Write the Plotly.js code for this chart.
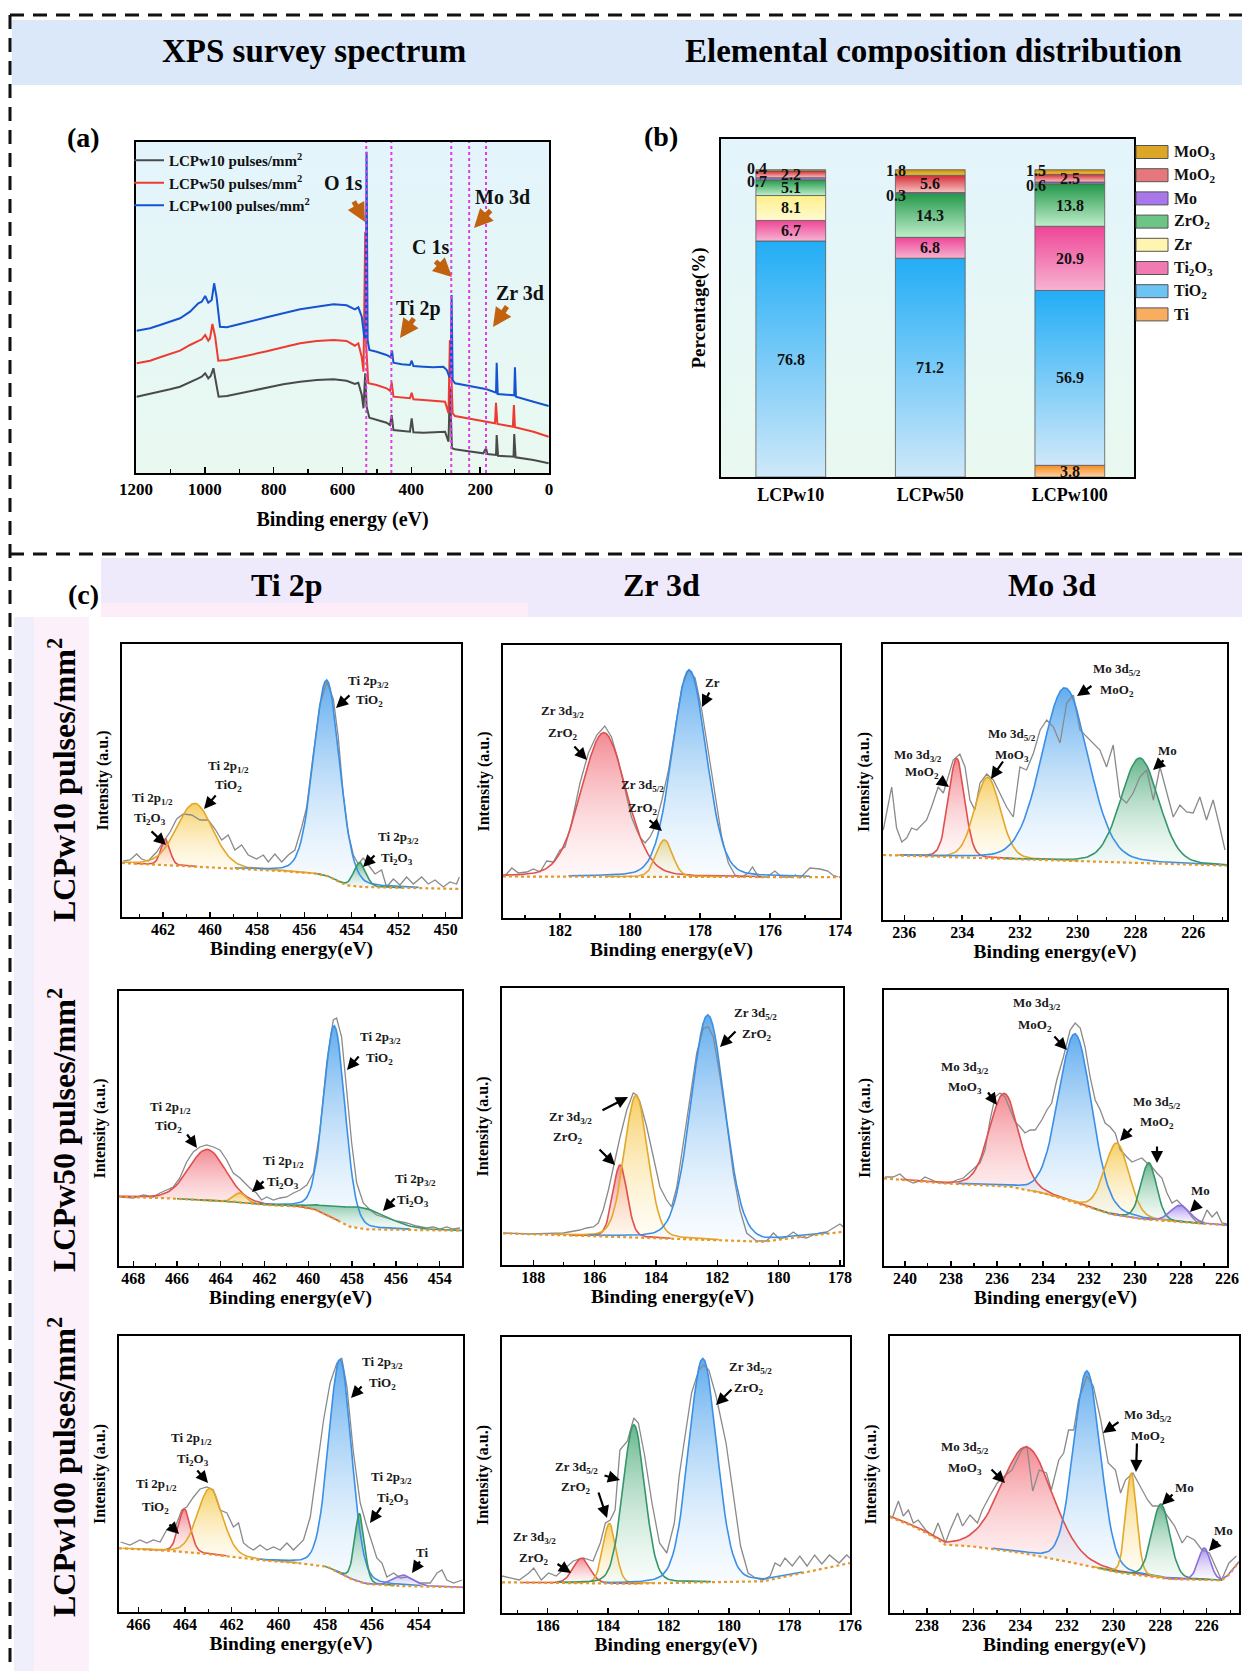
<!DOCTYPE html>
<html>
<head>
<meta charset="utf-8">
<script src="https://cdn.plot.ly/plotly-3.0.1.min.js"></script>
<style>
html,body{margin:0;padding:0;background:#fff;}
#fig{width:1242px;height:1671px;}
</style>
</head>
<body>
<div id="fig"></div>
<script>
// ======================= DATA =======================
// (a) XPS survey spectra (binding energy eV, intensity a.u.)
const surveySeries = ['LCPw10 pulses/mm<sup>2</sup>', 'LCPw50 pulses/mm<sup>2</sup>', 'LCPw100 pulses/mm<sup>2</sup>'];
const surveyE10 = [1198,1159,1130,1101,1072,1043,1019,1009,999,990,983,975,968,960,936,898,859,820,772,723,675,626,588,564,554,544,539,534,530,522,501,472,462,457,452,428,404,399,394,365,336,302,292,288,282,273,239,191,183,179,154,152,148,128,103,101,97,45,1];
const surveyI10 = [76.3,79,81.3,83.7,86.3,91.3,94.7,96.3,99.7,94.7,97,104.7,91.3,76.3,77,79.7,82.3,85.3,88.7,91.3,93,93.7,92.3,89,90.3,78,64.7,99.7,66.3,55.3,53,50.3,48,58,43,42,41.3,54.7,40.7,40.3,40.7,41.3,31.3,86.3,24.7,23.7,22,19.7,24.7,19,18,38,17.3,17,16.3,39,15.7,13,9.7];
const surveyE50 = [1198,1159,1130,1101,1072,1043,1019,1009,999,990,985,978,970,961,936,898,859,820,772,723,675,626,588,564,554,544,539,534,531,525,501,472,462,457,452,428,404,399,394,365,336,302,292,288,283,280,273,239,200,181,157,154,150,128,105,102,99,45,1];
const surveyI50 = [109.7,112.3,115.7,119,122.3,128,132.3,133.7,138,132.3,134.7,149,136.3,112.3,113,115.7,118.7,121.7,125.7,129.7,132,133,132,127.3,129.7,115.7,101.3,241.3,126.3,89.7,88,84.7,82.3,90.3,76.3,75.3,74.7,80.3,73.7,73,72.3,71.3,59.7,133,91.3,59.7,57,54.7,52,50.7,49.7,70.3,49,47.7,46.3,68,45.7,41.3,36.3];
const surveyE100 = [1198,1159,1130,1101,1072,1043,1019,1009,999,990,980,973,966,956,936,898,859,820,772,723,675,626,588,564,554,544,537,533,530,527,522,501,472,460,456,452,428,404,399,394,365,336,307,297,289,286,283,280,273,239,200,181,154,152,149,128,101,99,96,45,1];
const surveyI100 = [142.3,144.7,148,151.3,154.7,161.3,169.7,171.3,177,170.3,173,189.7,176.3,146.3,145.7,149,152,155.7,159.7,163.7,166.3,168.7,167.7,163.7,165.7,156.3,136.3,134.7,321.3,133,123,121.3,118,115.7,122.3,110.3,108.7,108,112.3,107,106.3,105.7,106.3,103,95.7,99.7,178,93,89.7,87.7,85.3,83.7,80.3,110.3,79,78.3,77.7,105.7,76.3,71.3,67];
const surveyPeakNames = ['O 1s','Ti 2p','C 1s','Mo 3d','Zr 3d'];
const surveyPeakE = [531, 458, 284, 232, 183];

// (b) elemental composition (%)
const samples = ['LCPw10','LCPw50','LCPw100'];
const species = ['Ti','TiO<sub>2</sub>','Ti<sub>2</sub>O<sub>3</sub>','Zr','ZrO<sub>2</sub>','Mo','MoO<sub>2</sub>','MoO<sub>3</sub>'];
const pctTi    = [0, 0, 3.8];
const pctTiO2  = [76.8, 71.2, 56.9];
const pctTi2O3 = [6.7, 6.8, 20.9];
const pctZr    = [8.1, 0, 0];
const pctZrO2  = [5.1, 14.3, 13.8];
const pctMo    = [0.7, 0.3, 0.6];
const pctMoO2  = [2.2, 5.6, 2.5];
const pctMoO3  = [0.4, 1.8, 1.5];

// (c) high-resolution spectra: raw data, background, fitted peaks (centre eV, height, FWHM eV)
const ti10E = [463.68,463.40,463.12,462.91,462.63,462.27,461.99,461.70,461.42,461.14,460.78,460.43,460.08,459.79,459.51,459.23,458.95,458.66,458.38,458.03,457.74,457.53,457.25,456.96,456.68,456.40,456.11,455.90,455.62,455.33,455.05,454.77,454.56,454.35,454.13,453.92,453.71,453.50,453.28,453.00,452.72,452.51,452.22,451.94,451.66,451.37,451.02,450.74,450.45,450.10,449.82,449.54,449.42];
const ti10I = [56,57,63,58,56,65,75,85,98,103,102,97,97,88,77,82,67,72,62,58,62,55,63,55,62,67,90,110,163,213,235,218,180,123,83,62,53,59,52,43,47,30,38,32,40,33,40,33,37,30,35,33,40];
const ti10BgE = [463.74,461.5,459.0,457.0,455.5,455.0,454.6,454.2,453.5,449.35];
const ti10BgI = [54,51.7,48.4,46,43.4,40.7,36,31.7,30,28];
const ti10PeakE = [461.9, 460.65, 455.05, 453.64];
const ti10PeakH = [26, 63, 196, 24];
const ti10PeakW = [0.45, 1.8, 1.3, 0.6];

const zr10E = [183.60,183.38,183.19,182.95,182.76,182.57,182.38,182.19,182.00,181.86,181.67,181.43,181.19,180.95,180.72,180.53,180.34,180.15,179.96,179.81,179.70,179.57,179.43,179.29,179.09,178.90,178.71,178.52,178.33,178.14,177.95,177.76,177.57,177.38,177.19,177.00,176.81,176.62,176.50,176.33,176.09,175.86,175.67,175.38,175.28,175.14,174.86,174.57,174.35,174.21,174.05];
const zr10I = [41,50,45,46,49,46,57,56,68,71,95,135,165,183,192,181,158,128,101,88,80,75,81,91,118,148,188,231,248,240,208,165,121,81,55,43,41,45,51,41,41,47,41,41,43,40,50,49,47,43,41];
const zr10BgE = [183.63, 174.0];
const zr10BgI = [41.5, 40.8];
const zr10PeakE = [180.75, 179.02, 178.31];
const zr10PeakH = [144, 37, 207];
const zr10PeakW = [1.5, 0.55, 1.15];

const mo10E = [236.73,236.44,236.27,236.09,235.92,235.75,235.57,235.40,235.23,235.06,234.83,234.65,234.48,234.31,234.08,233.90,233.73,233.56,233.38,233.15,232.92,232.69,232.46,232.23,232.00,231.77,231.53,231.30,231.07,230.84,230.61,230.38,230.15,229.92,229.69,229.46,229.23,229.00,228.77,228.54,228.31,228.08,227.85,227.61,227.38,227.15,226.92,226.69,226.46,226.23,226.00,225.77,225.54,225.31,225.08,224.90];
const mo10I = [90,133,92,78,82,92,90,95,100,113,133,127,143,160,166,153,120,110,137,146,140,127,113,103,153,150,167,190,200,193,177,217,225,190,183,177,170,153,175,123,117,127,143,150,120,153,127,103,115,108,107,123,100,120,93,70];
const mo10BgE = [236.74, 224.83];
const mo10BgI = [65, 54.3];
const mo10PeakE = [234.19, 233.12, 230.44, 227.85];
const mo10PeakH = [99, 81, 173, 105];
const mo10PeakW = [0.65, 1.05, 1.9, 1.55];

const ti50E = [468.60,468.00,467.54,467.09,466.78,466.47,466.17,465.87,465.56,465.26,464.95,464.65,464.34,464.04,463.73,463.43,463.12,462.90,462.67,462.37,462.14,461.90,461.60,461.29,460.99,460.68,460.38,460.07,459.77,459.47,459.16,458.86,458.71,458.48,458.25,458.02,457.79,457.49,457.18,456.88,456.42,455.97,455.51,455.05,454.60,454.29,453.99,453.68,453.38,453.07];
const ti50I = [69,68,71,69,73,76,79,88,104,114,119,121,119,116,106,93,88,83,78,73,66,69,66,68,69,73,76,81,93,136,203,246,248,229,179,123,83,63,56,51,48,45,43,40,38,39,37,39,37,38];
const ti50BgE = [468.65,466.47,463.43,461.90,460.38,459.62,458.86,458.10,457.33,452.98];
const ti50BgI = [69.3,67.7,64.3,61,59.3,56,47.7,39.3,36.7,35.3];
const ti50PeakE = [464.62, 463.12, 458.81, 457.6];
const ti50PeakH = [51, 9.5, 193, 21];
const ti50PeakW = [2.0, 0.65, 1.15, 2.8];

const zr50E = [188.98,188.11,187.02,186.48,186.26,186.04,185.88,185.72,185.55,185.39,185.17,184.95,184.74,184.63,184.52,184.30,184.09,183.87,183.65,183.49,183.32,183.11,182.89,182.67,182.45,182.29,182.13,181.91,181.69,181.48,181.26,181.04,180.72,180.39,180.17,179.96,179.74,179.52,179.30,179.09,178.87,178.65,178.43,178.22,178.00,177.89];
const zr50I = [32,31,32,35,37,38,42,55,75,98,128,155,172,170,163,138,108,78,65,58,78,122,168,212,237,238,228,188,142,92,55,32,24,24,32,26,28,33,28,27,30,32,33,37,41,38];
const zr50BgE = [188.98,186.48,184.30,182.13,180.50,177.89];
const zr50BgI = [31.7,29.3,27.3,25,23.3,33.3];
const zr50PeakE = [185.17, 184.65, 182.31];
const zr50PeakH = [72, 142, 225];
const zr50PeakW = [0.55, 0.9, 1.3];

const mo50E = [240.87,240.51,240.22,239.93,239.64,239.35,239.13,238.91,238.62,238.33,238.04,237.75,237.46,237.17,236.95,236.74,236.52,236.30,236.08,235.87,235.65,235.43,235.21,234.99,234.78,234.56,234.34,234.05,233.83,233.62,233.40,233.11,232.82,232.60,232.38,232.17,231.95,231.73,231.51,231.30,231.08,230.86,230.64,230.35,230.13,229.92,229.70,229.48,229.26,229.05,228.83,228.61,228.39,228.18,227.96,227.74,227.52,227.31,227.09,226.87,226.65,226.44,226.22,226.00];
const mo50I = [89,89,92,86,83,85,89,87,84,83,83,86,88,94,99,103,116,146,169,173,169,156,144,139,133,136,136,146,156,163,186,209,236,243,238,219,189,166,156,143,139,133,116,109,104,106,108,103,99,93,88,73,63,66,61,56,49,44,44,56,49,54,43,42];
const mo50BgE = [240.91,238.33,235.43,233.83,232.53,231.08,229.63,227.45,226.0];
const mo50BgI = [87.7,82.7,79.3,72,62.7,52,46.7,42.7,40.7];
const mo50PeakE = [235.69, 232.60, 230.79, 229.40, 228.03];
const mo50PeakH = [93, 169, 72, 57, 17];
const mo50PeakW = [1.5, 1.7, 1.25, 0.8, 1.0];

const ti100E = [466.76,466.36,465.93,465.64,465.36,465.07,464.79,464.50,464.14,463.93,463.64,463.36,463.07,462.79,462.50,462.21,461.93,461.71,461.50,461.29,461.07,460.79,460.50,460.21,459.93,459.64,459.36,459.07,458.93,458.64,458.36,458.07,457.79,457.50,457.29,457.07,456.79,456.50,456.21,456.00,455.79,455.57,455.36,455.07,454.79,454.50,454.21,453.93,453.50,453.21,453.00,452.79,452.50,452.14];
const ti100I = [70,67,72,69,72,70,82,80,102,105,115,123,125,122,102,99,85,89,69,65,62,67,62,65,62,69,62,69,72,95,142,192,229,249,254,225,159,109,85,69,54,49,35,39,34,35,32,29,29,39,42,32,29,32];
const ti100BgE = [466.83,464.79,463.36,461.93,460.50,459.07,457.93,457.36,456.79,456.21,454.79,452.1];
const ti100BgI = [63.7,61.3,58.7,55.3,51.3,48.7,45.3,38.7,32,28,26,24.7];
const ti100PeakE = [464.03, 462.93, 457.36, 456.53, 454.64];
const ti100PeakH = [43, 66, 214, 68, 11];
const ti100PeakW = [0.6, 1.25, 1.15, 0.5, 1.0];

const zr100E = [187.51,187.27,186.94,186.62,186.46,186.21,185.97,185.72,185.48,185.15,184.83,184.50,184.26,184.09,183.93,183.77,183.61,183.36,183.15,183.00,182.79,182.55,182.30,182.06,181.81,181.65,181.49,181.24,181.00,180.84,180.67,180.43,180.10,179.86,179.62,179.37,179.13,178.88,178.64,178.48,178.31,178.15,177.91,177.66,177.42,177.17,176.93,176.68,176.36,176.11,176.00];
const zr100I = [37,35,33,40,45,33,40,37,43,52,55,52,70,90,93,103,163,172,195,190,157,110,70,60,90,137,170,220,243,248,243,217,170,117,67,40,35,33,37,50,47,55,47,57,47,58,49,58,50,58,55];
const zr100BgE = [187.51,183.36,178.88,176.0];
const zr100BgI = [30.7,29.3,31.7,50];
const zr100PeakE = [184.88, 183.96, 183.15, 180.87];
const zr100PeakH = [25, 60, 159, 224];
const zr100PeakW = [0.65, 0.5, 0.85, 1.1];

const mo100E = [239.48,239.23,239.02,238.80,238.59,238.38,238.06,237.75,237.53,237.22,237.01,236.69,236.48,236.16,235.84,235.63,235.31,234.99,234.68,234.36,233.94,233.72,233.47,233.19,232.88,232.67,232.35,232.14,231.93,231.71,231.50,231.14,230.87,230.55,230.23,229.92,229.70,229.49,229.17,228.86,228.54,228.33,228.01,227.69,227.38,227.06,226.85,226.53,226.21,225.89,225.58,225.37,225.05,224.73];
const mo100I = [96,112,97,103,90,93,83,77,90,70,83,100,87,98,90,103,117,130,137,143,163,167,122,143,140,123,153,160,183,183,213,237,227,193,150,143,120,133,140,127,113,107,107,97,87,70,77,73,63,60,43,33,50,57];
const mo100BgE = [239.59,238.59,237.75,237.22,236.05,233.94,231.82,229.70,227.59,225.37,225.05,224.62];
const mo100BgI = [96,86.6,76.6,68.3,66.6,60,50.6,40,34,32.6,38.3,51];
const mo100PeakE = [233.72, 231.14, 229.24, 227.97, 226.11];
const mo100PeakH = [107, 195, 101, 74, 32];
const mo100PeakW = [2.6, 1.35, 0.55, 0.9, 0.6];

// ======================= STYLE / LAYOUT =======================
const F = "'Liberation Serif','Times New Roman',serif";
const W = 1242, H = 1671;
const PX = x => x / W, PY = y => 1 - y / H;
const fnt = (s, c) => ({family: F, size: s, color: c || '#000', weight: 'bold'});
const traces = [], annotations = [], shapes = [];

const compStyle = {
  red:    {line:'#e0504e', top:'rgba(240,112,122,0.82)', bot:'rgba(255,228,230,0.25)', mid:'rgba(246,170,176,0.6)'},
  yellow: {line:'#e3a82a', top:'rgba(244,196,66,0.82)',  bot:'rgba(255,246,218,0.25)', mid:'rgba(248,220,140,0.6)'},
  blue:   {line:'#3a8fe6', top:'rgba(70,158,236,0.85)',  bot:'rgba(228,242,253,0.25)', mid:'rgba(150,200,245,0.6)'},
  green:  {line:'#34966a', top:'rgba(70,166,116,0.82)',  bot:'rgba(226,245,234,0.25)', mid:'rgba(150,210,178,0.6)'},
  purple: {line:'#8a6de0', top:'rgba(148,120,236,0.82)', bot:'rgba(236,230,252,0.25)', mid:'rgba(190,172,244,0.6)'}
};

function interp(xs, ys, x) {
  for (let i = 0; i < xs.length - 1; i++) {
    const a = xs[i], b = xs[i + 1];
    if ((x - a) * (x - b) <= 0) { const t = (x - a) / (b - a); return ys[i] + t * (ys[i + 1] - ys[i]); }
  }
  return Math.abs(x - xs[0]) < Math.abs(x - xs[xs.length - 1]) ? ys[0] : ys[ys.length - 1];
}
function pv(d) { return 0.85 * Math.exp(-4 * Math.LN2 * d * d) + 0.15 / (1 + 4 * d * d); }

function note(text, x, y, size, color, extra) {
  annotations.push(Object.assign({xref:'paper', yref:'paper', x:PX(x), y:PY(y), xanchor:'center', yanchor:'middle',
    text:text, showarrow:false, font:fnt(size, color || '#000')}, extra || {}));
}
function arrow(x, y, ax, ay, color, width, size) {
  annotations.push({xref:'paper', yref:'paper', x:PX(x), y:PY(y), xanchor:'center', yanchor:'middle', text:'',
    showarrow:true, ax:ax, ay:ay, arrowhead:2, arrowsize:size, arrowwidth:width, arrowcolor:color});
}

function bgTrace(xa, ya, xr, yr) {
  traces.push({type:'scatter', mode:'lines', xaxis:xa, yaxis:ya,
    x:[xr[0], xr[1], xr[1], xr[0], xr[0]], y:[yr[0], yr[0], yr[1], yr[1], yr[0]],
    fill:'toself', fillcolor:'#e7f7f6',
    fillgradient:{type:'vertical', colorscale:[[0, '#e9f9f0'], [1, '#e3f4fc']]},
    line:{width:0}, hoverinfo:'skip', showlegend:false});
}

// ---------- (a) survey ----------
const frA = [136, 549, 142, 473];
const xrA = [1200, 0], yrA = [0, frA[3] - frA[2]];
bgTrace('x', 'y', xrA, yrA);
const surveyColors = ['#4a4a4a', '#ee3b32', '#1553d0'];
[[surveyE10, surveyI10], [surveyE50, surveyI50], [surveyE100, surveyI100]].forEach((s, i) => {
  traces.push({type:'scatter', mode:'lines', x:s[0], y:s[1], xaxis:'x', yaxis:'y',
    name:surveySeries[i], line:{color:surveyColors[i], width:2}, showlegend:true, hoverinfo:'skip'});
});
surveyPeakE.forEach(e => shapes.push({type:'line', xref:'x', yref:'y', x0:e, x1:e, y0:yrA[0], y1:yrA[1],
  line:{color:'#e03ce6', width:2, dash:'dot'}, layer:'above'}));
const surveyNotePos = {
  'O 1s':  {t:[343,183], h:[365,222], a:[-12,-22]},
  'Ti 2p': {t:[418,308], h:[400,338], a:[15,-21]},
  'C 1s':  {t:[430,247], h:[452,277], a:[-18,-17]},
  'Mo 3d': {t:[502,197], h:[474,228], a:[18,-19]},
  'Zr 3d': {t:[520,293], h:[493,327], a:[15,-22]}
};
surveyPeakNames.forEach(nm => {
  const p = surveyNotePos[nm];
  note(nm, p.t[0], p.t[1], 20, '#111');
  arrow(p.h[0], p.h[1], p.a[0], p.a[1], '#c2610f', 5, 0.75);
});

// ---------- (b) stacked composition bars ----------
const frB = [721, 1134, 139, 477];
const xrB = [-0.5, 2.46], yrB = [0, 110];
bgTrace('x2', 'y2', xrB, yrB);
const pctAll = [pctTi, pctTiO2, pctTi2O3, pctZr, pctZrO2, pctMo, pctMoO2, pctMoO3];
const barTop = ['#f68a1f', '#22adf6', '#ef4596', '#fff08a', '#23984a', '#9a5de6', '#d42a36', '#c58a06'];
const barBot = ['#fdd3a6', '#cfe8f9', '#f6b3d2', '#fffad2', '#c0eecb', '#b893f0', '#f8c2c0', '#f2c447'];
const barMid = ['#f9ad60', '#6cc4f5', '#f27ab3', '#fff5b0', '#6cc585', '#a877ea', '#e6777d', '#dca726'];
const halfW = 0.25;
const base = samples.map(() => 0);
pctAll.forEach((vals, j) => {
  vals.forEach((v, i) => {
    if (v <= 0) return;
    const y0 = base[i], y1 = base[i] + v; base[i] = y1;
    traces.push({type:'scatter', mode:'lines', xaxis:'x2', yaxis:'y2',
      x:[i - halfW, i + halfW, i + halfW, i - halfW, i - halfW], y:[y0, y0, y1, y1, y0],
      fill:'toself', fillcolor:barMid[j],
      fillgradient:{type:'vertical', colorscale:[[0, barBot[j]], [1, barTop[j]]]},
      line:{color:'#5a5a5a', width:0.8}, hoverinfo:'skip', showlegend:false, name:species[j]});
    const small = v < 2;
    annotations.push({xref:'x2', yref:'y2', x:i, y:(y0 + y1) / 2, xanchor:'center', yanchor:'middle',
      text:String(v), showarrow:false, xshift: small ? -34 : 0,
      yshift: small ? (j === pctAll.length - 1 ? 2 : -3) : 0, font:fnt(16, '#111')});
  });
});
// legend of (b)
species.slice().reverse().forEach((nm, k) => {
  const j = species.length - 1 - k;
  const yc = 152 + k * 23.2;
  shapes.push({type:'rect', xref:'paper', yref:'paper', x0:PX(1136), x1:PX(1168), y0:PY(yc + 6.5), y1:PY(yc - 6.5),
    fillcolor:barMid[j], line:{color:'#555', width:1}, layer:'above'});
  note(nm, 1172, yc, 16, '#111', {xanchor:'left'});
});

// ---------- (c) high-resolution fitted spectra ----------
const cPanels = [
  {E:ti10E, I:ti10I, bgE:ti10BgE, bgI:ti10BgI, pE:ti10PeakE, pH:ti10PeakH, pW:ti10PeakW, col:['red','yellow','blue','green'], fr:[122,461,644,917], xr:[463.74,449.35]},
  {E:zr10E, I:zr10I, bgE:zr10BgE, bgI:zr10BgI, pE:zr10PeakE, pH:zr10PeakH, pW:zr10PeakW, col:['red','yellow','blue'], fr:[503,840,645,918], xr:[183.63,174.0]},
  {E:mo10E, I:mo10I, bgE:mo10BgE, bgI:mo10BgI, pE:mo10PeakE, pH:mo10PeakH, pW:mo10PeakW, col:['red','yellow','blue','green'], fr:[883,1227,644,920], xr:[236.74,224.83]},
  {E:ti50E, I:ti50I, bgE:ti50BgE, bgI:ti50BgI, pE:ti50PeakE, pH:ti50PeakH, pW:ti50PeakW, col:['red','yellow','blue','green'], fr:[119,462,991,1266], xr:[468.65,452.98]},
  {E:zr50E, I:zr50I, bgE:zr50BgE, bgI:zr50BgI, pE:zr50PeakE, pH:zr50PeakH, pW:zr50PeakW, col:['red','yellow','blue'], fr:[502,843,988,1265], xr:[189.02,177.9]},
  {E:mo50E, I:mo50I, bgE:mo50BgE, bgI:mo50BgI, pE:mo50PeakE, pH:mo50PeakH, pW:mo50PeakW, col:['red','blue','yellow','green','purple'], fr:[884,1227,990,1266], xr:[240.91,226.0]},
  {E:ti100E, I:ti100I, bgE:ti100BgE, bgI:ti100BgI, pE:ti100PeakE, pH:ti100PeakH, pW:ti100PeakW, col:['red','yellow','blue','green','purple'], fr:[119,463,1336,1612], xr:[466.83,452.1]},
  {E:zr100E, I:zr100I, bgE:zr100BgE, bgI:zr100BgI, pE:zr100PeakE, pH:zr100PeakH, pW:zr100PeakW, col:['red','yellow','green','blue'], fr:[502,850,1337,1613], xr:[187.51,176.0]},
  {E:mo100E, I:mo100I, bgE:mo100BgE, bgI:mo100BgI, pE:mo100PeakE, pH:mo100PeakH, pW:mo100PeakW, col:['red','blue','yellow','green','purple'], fr:[890,1239,1336,1613], xr:[239.59,224.62]}
];

const layout = {
  width:W, height:H, margin:{l:0, r:0, t:0, b:0, pad:0},
  paper_bgcolor:'#ffffff', plot_bgcolor:'rgba(0,0,0,0)',
  font:{family:F, color:'#000'},
  showlegend:true,
  legend:{x:PX(129), y:PY(144), xanchor:'left', yanchor:'top', bgcolor:'rgba(0,0,0,0)',
    font:fnt(15, '#111'), itemwidth:30, tracegroupgap:0},
  hovermode:false
};

cPanels.forEach((p, k) => {
  const n = k + 3, xa = 'x' + n, ya = 'y' + n;
  const lo = Math.min(p.xr[0], p.xr[1]), hi = Math.max(p.xr[0], p.xr[1]);
  const lineTraces = [];
  p.pE.forEach((c, j) => {
    const w = p.pW[j], h = p.pH[j], st = compStyle[p.col[j]];
    const a = Math.max(lo, c - 3 * w), b = Math.min(hi, c + 3 * w);
    const xs = [], ys = [], bs = [];
    for (let s = 0; s <= 100; s++) {
      const e = a + (b - a) * s / 100;
      const bg = interp(p.bgE, p.bgI, e);
      xs.push(e); bs.push(bg); ys.push(bg + h * pv((e - c) / w));
    }
    traces.push({type:'scatter', mode:'lines', xaxis:xa, yaxis:ya,
      x:xs.concat(xs.slice().reverse()), y:ys.concat(bs.slice().reverse()),
      fill:'toself', fillcolor:st.mid,
      fillgradient:{type:'vertical', colorscale:[[0, st.bot], [1, st.top]]},
      line:{width:0}, hoverinfo:'skip', showlegend:false});
    lineTraces.push({type:'scatter', mode:'lines', xaxis:xa, yaxis:ya, x:xs, y:ys,
      line:{color:st.line, width:1.6}, hoverinfo:'skip', showlegend:false});
  });
  traces.push({type:'scatter', mode:'lines', xaxis:xa, yaxis:ya, x:p.E, y:p.I,
    line:{color:'#8a8a8a', width:1.3}, hoverinfo:'skip', showlegend:false});
  lineTraces.forEach(t => traces.push(t));
  traces.push({type:'scatter', mode:'lines', xaxis:xa, yaxis:ya, x:p.bgE, y:p.bgI,
    line:{color:'#e6982a', width:2.2, dash:'dot'}, hoverinfo:'skip', showlegend:false});

  layout['xaxis' + n] = {domain:[PX(p.fr[0]), PX(p.fr[1])], anchor:ya, range:p.xr, tick0:0, dtick:2,
    ticks:'inside', ticklen:5, tickwidth:1.3, tickcolor:'#000', ticklabelstandoff:-3,
    minor:{dtick:1, ticks:'inside', ticklen:3.5, tickwidth:1.1, tickcolor:'#000'},
    showline:true, mirror:true, linecolor:'#000', linewidth:1.8, showgrid:false, zeroline:false,
    tickfont:fnt(16), title:{text:'Binding energy(eV)', font:fnt(19.5), standoff:0}};
  layout['yaxis' + n] = {domain:[PY(p.fr[3]), PY(p.fr[2])], anchor:xa, range:[0, p.fr[3] - p.fr[2]],
    showticklabels:false, ticks:'', showline:true, mirror:true, linecolor:'#000', linewidth:1.8,
    showgrid:false, zeroline:false, title:{text:'Intensity (a.u.)', font:fnt(16), standoff:8}};
});

layout.xaxis = {domain:[PX(frA[0]), PX(frA[1])], anchor:'y', range:xrA, tick0:0, dtick:200,
  ticks:'inside', ticklen:6, tickwidth:1.5, tickcolor:'#000',
  minor:{dtick:100, ticks:'inside', ticklen:4, tickwidth:1.2, tickcolor:'#000'},
  showline:true, mirror:true, linecolor:'#000', linewidth:2, showgrid:false, zeroline:false,
  tickfont:fnt(17), title:{text:'Binding energy (eV)', font:fnt(20), standoff:14}};
layout.yaxis = {domain:[PY(frA[3]), PY(frA[2])], anchor:'x', range:yrA, showticklabels:false, ticks:'',
  showline:true, mirror:true, linecolor:'#000', linewidth:2, showgrid:false, zeroline:false};
layout.xaxis2 = {domain:[PX(frB[0]), PX(frB[1])], anchor:'y2', range:xrB, tickvals:[0, 1, 2], ticktext:samples,
  ticks:'', showline:true, mirror:true, linecolor:'#000', linewidth:2, showgrid:false, zeroline:false,
  tickfont:fnt(18)};
layout.yaxis2 = {domain:[PY(frB[3]), PY(frB[2])], anchor:'x2', range:yrB, showticklabels:false, ticks:'',
  showline:true, mirror:true, linecolor:'#000', linewidth:2, showgrid:false, zeroline:false,
  title:{text:'Percentage(%)', font:fnt(19), standoff:8}};

// ---------- peak labels and arrows in (c) (page pixel positions) ----------
const cNotes = [
  ['Ti 2p<sub>1/2</sub>',152,799],['Ti<sub>2</sub>O<sub>3</sub>',150,818],
  ['Ti 2p<sub>1/2</sub>',228,766],['TiO<sub>2</sub>',228,785],
  ['Ti 2p<sub>3/2</sub>',368,681],['TiO<sub>2</sub>',369,700],
  ['Ti 2p<sub>3/2</sub>',398,837],['Ti<sub>2</sub>O<sub>3</sub>',397,858],
  ['Zr 3d<sub>3/2</sub>',562,712],['ZrO<sub>2</sub>',563,733],
  ['Zr 3d<sub>5/2</sub>',642,786],['ZrO<sub>2</sub>',643,808],
  ['Zr',712,682],
  ['Mo 3d<sub>3/2</sub>',918,755],['MoO<sub>2</sub>',922,773],
  ['Mo 3d<sub>5/2</sub>',1012,735],['MoO<sub>3</sub>',1012,755],
  ['Mo 3d<sub>5/2</sub>',1117,670],['MoO<sub>2</sub>',1117,690],
  ['Mo',1167,751],
  ['Ti 2p<sub>1/2</sub>',170,1107],['TiO<sub>2</sub>',168,1126],
  ['Ti 2p<sub>1/2</sub>',283,1161],['Ti<sub>2</sub>O<sub>3</sub>',283,1182],
  ['Ti 2p<sub>3/2</sub>',380,1037],['TiO<sub>2</sub>',379,1058],
  ['Ti 2p<sub>3/2</sub>',415,1179],['Ti<sub>2</sub>O<sub>3</sub>',413,1200],
  ['Zr 3d<sub>3/2</sub>',570,1117],['ZrO<sub>2</sub>',568,1137],
  ['Zr 3d<sub>5/2</sub>',755,1013],['ZrO<sub>2</sub>',757,1034],
  ['Mo 3d<sub>3/2</sub>',1037,1003],['MoO<sub>2</sub>',1035,1025],
  ['Mo 3d<sub>3/2</sub>',965,1067],['MoO<sub>3</sub>',965,1087],
  ['Mo 3d<sub>5/2</sub>',1157,1102],['MoO<sub>2</sub>',1157,1122],
  ['Mo',1200,1190],
  ['Ti 2p<sub>1/2</sub>',156,1484],['TiO<sub>2</sub>',155,1507],
  ['Ti 2p<sub>1/2</sub>',191,1438],['Ti<sub>2</sub>O<sub>3</sub>',193,1459],
  ['Ti 2p<sub>3/2</sub>',382,1362],['TiO<sub>2</sub>',382,1383],
  ['Ti 2p<sub>3/2</sub>',391,1477],['Ti<sub>2</sub>O<sub>3</sub>',393,1498],
  ['Ti',422,1552],
  ['Zr 3d<sub>3/2</sub>',534,1537],['ZrO<sub>2</sub>',534,1558],
  ['Zr 3d<sub>5/2</sub>',576,1467],['ZrO<sub>2</sub>',576,1487],
  ['Zr 3d<sub>5/2</sub>',750,1367],['ZrO<sub>2</sub>',749,1388],
  ['Mo 3d<sub>5/2</sub>',965,1447],['MoO<sub>3</sub>',965,1468],
  ['Mo 3d<sub>5/2</sub>',1148,1415],['MoO<sub>2</sub>',1148,1436],
  ['Mo',1184,1487],['Mo',1223,1530]
];
const cArrows = [
  [166,845,-16,-15],[204,809,13,-15],[336,708,15,-14],[363,867,13,-13],
  [587,760,-14,-15],[662,831,-14,-12],[702,707,8,-16],
  [949,787,-11,-8],[991,779,13,-19],[1077,696,16,-11],[1153,770,12,-11],
  [197,1148,-11,-15],[252,1192,13,-12],[347,1070,13,-15],[383,1211,13,-14],
  [615,1165,-17,-17],[628,1097,-27,14],[720,1047,17,-17],
  [1067,1050,-14,-15],[997,1105,-10,-14],[1120,1141,13,-14],[1157,1163,0,-18],[1190,1212,10,-10],
  [179,1534,-11,-11],[208,1483,-12,-14],[351,1398,12,-13],[370,1523,12,-17],[412,1573,9,-13],
  [571,1573,-15,-10],[620,1480,-17,-5],[607,1518,-9,-27],[716,1405,17,-17],
  [1005,1483,-15,-15],[1103,1433,17,-12],[1136,1472,1,-30],[1162,1505,12,-12],[1209,1551,10,-11]
];
cNotes.forEach(n => note(n[0], n[1], n[2], 13, '#1a1a1a'));
cArrows.forEach(a => arrow(a[0], a[1], a[2], a[3], '#000', 2.2, 1.1));

// ---------- headers, labels, decorations ----------
[['XPS survey spectrum',314,51,33],['Elemental composition distribution',933,51,33],
 ['(a)',83,137,28],['(b)',661,136,28],['(c)',83,594,28],
 ['Ti 2p',286,585,32],['Zr 3d',661,585,32],['Mo 3d',1052,585,32]].forEach(t => note(t[0], t[1], t[2], t[3], '#000'));
[['LCPw10 pulses/mm<sup>2</sup>',62,780],['LCPw50 pulses/mm<sup>2</sup>',62,1130],['LCPw100 pulses/mm<sup>2</sup>',62,1467]].forEach(t =>
  note(t[0], t[1], t[2], 32, '#000', {textangle:-90}));

const rect = (x0, x1, y0, y1, c) => shapes.push({type:'rect', xref:'paper', yref:'paper', x0:PX(x0), x1:PX(x1), y0:PY(y1), y1:PY(y0), fillcolor:c, line:{width:0}, layer:'below'});
rect(12, 1242, 20, 85, '#dbe8fa');
rect(101, 1242, 558, 617, '#eeeafb');
rect(101, 528, 603, 617, '#fcedf9');
rect(14, 34, 617, 1671, '#efeefb');
rect(34, 89, 617, 1671, '#fcf0fb');
const dash = {color:'#111', width:3, dash:'14px,9px'};
shapes.push({type:'line', xref:'paper', yref:'paper', x0:PX(10), x1:PX(1242), y0:PY(15), y1:PY(15), line:dash, layer:'above'});
shapes.push({type:'line', xref:'paper', yref:'paper', x0:PX(10), x1:PX(1242), y0:PY(554), y1:PY(554), line:dash, layer:'above'});
shapes.push({type:'line', xref:'paper', yref:'paper', x0:PX(10), x1:PX(10), y0:PY(15), y1:PY(1671), line:dash, layer:'above'});

layout.annotations = annotations;
layout.shapes = shapes;

Plotly.newPlot('fig', traces, layout, {staticPlot:true, displayModeBar:false});
</script>
</body>
</html>
